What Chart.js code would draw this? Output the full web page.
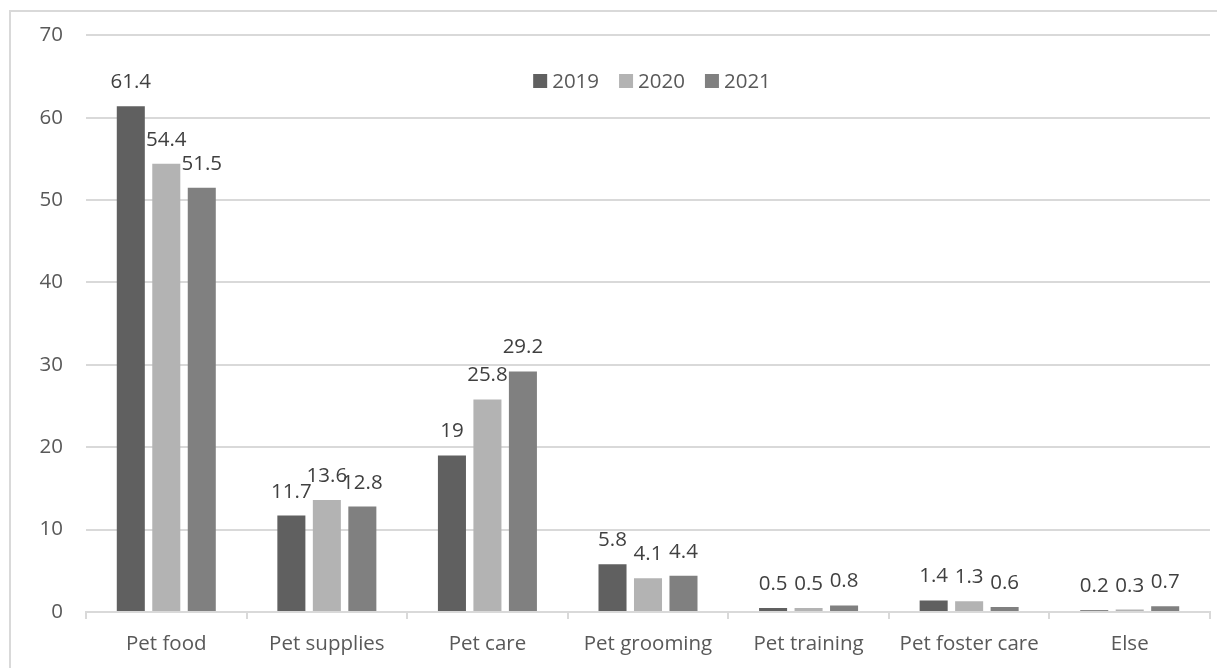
<!DOCTYPE html>
<html>
<head>
<meta charset="utf-8">
<script src="https://cdn.jsdelivr.net/npm/chart.js@4/dist/chart.umd.min.js"></script>
<style>
  html, body { margin: 0; padding: 0; background: #fff; overflow: hidden; }
  #frame { position: absolute; left: 9px; top: 10px; width: 1230px; height: 680px; border: 2px solid #d9d9d9; box-sizing: border-box; }
  #wrap { position: absolute; left: 0; top: 0; width: 1217px; height: 668px; }
</style>
</head>
<body>
<div id="frame"></div>
<div id="wrap"><canvas id="c" width="1217" height="668"></canvas></div>
<script>
const categories = ["Pet food", "Pet supplies", "Pet care", "Pet grooming", "Pet training", "Pet foster care", "Else"];
const seriesNames = ["2019", "2020", "2021"];
const values2019 = [61.4, 11.7, 19, 5.8, 0.5, 1.4, 0.2];
const values2020 = [54.4, 13.6, 25.8, 4.1, 0.5, 1.3, 0.3];
const values2021 = [51.5, 12.8, 29.2, 4.4, 0.8, 0.6, 0.7];
const yTicks = [0, 10, 20, 30, 40, 50, 60, 70];

const colors = ["#606060", "#b3b3b3", "#808080"];
const FONT = "'Open Sans', 'Liberation Sans', sans-serif";

const valueLabels = {
  id: 'valueLabels',
  afterDatasetsDraw(chart) {
    const ctx = chart.ctx;
    ctx.save();
    ctx.font = "20.5px " + FONT;
    ctx.fillStyle = "#404040";
    ctx.textAlign = "center";
    ctx.textBaseline = "alphabetic";
    chart.data.datasets.forEach((ds, i) => {
      const meta = chart.getDatasetMeta(i);
      meta.data.forEach((bar, j) => {
        ctx.fillText(String(ds.data[j]), bar.x, bar.y - 18);
      });
    });
    ctx.restore();
  }
};

const innerLegend = {
  id: 'innerLegend',
  afterDraw(chart) {
    const ctx = chart.ctx;
    const area = chart.chartArea;
    ctx.save();
    ctx.font = "20.5px " + FONT;
    ctx.textBaseline = "middle";
    ctx.textAlign = "left";
    const box = 14, gapBox = 5, gapItem = 20;
    const items = chart.data.datasets.map(ds => ({ label: ds.label, color: ds.backgroundColor, w: ctx.measureText(ds.label).width }));
    let total = 0;
    items.forEach((it, k) => { total += box + gapBox + it.w + (k < items.length - 1 ? gapItem : 0); });
    let x = (area.left + area.right) / 2 - total / 2 + 4;
    const yc = 81;
    items.forEach(it => {
      ctx.fillStyle = it.color;
      ctx.fillRect(x, yc - box / 2, box, box);
      x += box + gapBox;
      ctx.fillStyle = "#595959";
      ctx.fillText(it.label, x, yc + 1);
      x += it.w + gapItem;
    });
    ctx.restore();
  }
};

new Chart(document.getElementById('c'), {
  type: 'bar',
  data: {
    labels: categories,
    datasets: [
      { label: seriesNames[0], data: values2019, backgroundColor: colors[0] },
      { label: seriesNames[1], data: values2020, backgroundColor: colors[1] },
      { label: seriesNames[2], data: values2021, backgroundColor: colors[2] }
    ]
  },
  options: {
    responsive: false,
    animation: false,
    devicePixelRatio: 1,
    layout: { padding: { left: 10, top: 35, right: 7, bottom: 0 } },
    datasets: { bar: { categoryPercentage: 0.663, barPercentage: 0.79 } },
    plugins: {
      legend: { display: false },
      tooltip: { enabled: false }
    },
    scales: {
      x: {
        offset: true,
        grid: { offset: true, drawOnChartArea: false, drawTicks: true, tickLength: 7, color: "#d9d9d9", lineWidth: 2 },
        border: { display: true, color: "#d9d9d9", width: 2 },
        ticks: { color: "#595959", font: { family: FONT, size: 20.5 }, padding: 13, maxRotation: 0, autoSkip: false },
        afterFit(scale) { scale.height = 56; }
      },
      y: {
        min: 0, max: 70,
        afterBuildTicks(scale) { scale.ticks = yTicks.map(v => ({ value: v })); },
        grid: { color: "#d9d9d9", lineWidth: 2, drawTicks: false },
        border: { display: false },
        ticks: { color: "#595959", font: { family: FONT, size: 20.5 }, padding: 23 },
        afterFit(scale) { scale.width = 76; }
      }
    }
  },
  plugins: [valueLabels, innerLegend]
});
</script>
</body>
</html>
